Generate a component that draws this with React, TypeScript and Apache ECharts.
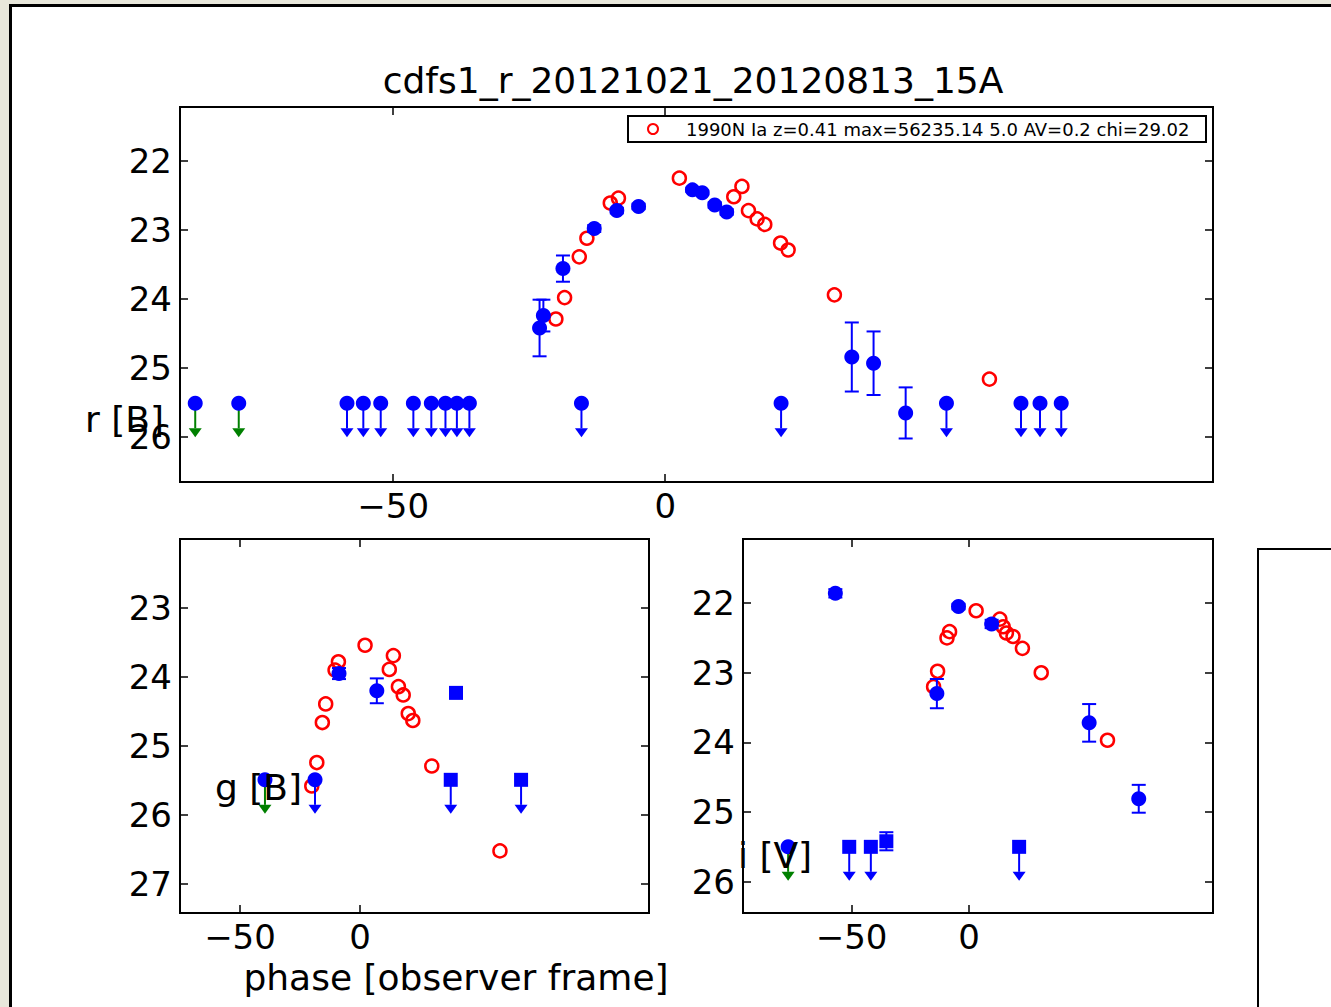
import React, { useEffect, useRef } from "react";
import * as echarts from "echarts";

const FONT = "DejaVu Sans";
const BLUE = "#0000ff";
const RED = "#ff0000";
const GREEN = "#008000";

const chartTitle = "cdfs1_r_20121021_20120813_15A";
const legendLabel = "1990N Ia z=0.41 max=56235.14 5.0 AV=0.2 chi=29.02";
const xAxisTitle = "phase [observer frame]";
const bandLabels = ["r [B]", "g [B]", "i [V]"];

const phaseTicks = [-50, 0];
const rMagTicks = [22, 23, 24, 25, 26];
const gMagTicks = [23, 24, 25, 26, 27];
const iMagTicks = [22, 23, 24, 25, 26];

type Pt = [number, number];
type ErrPt = [number, number, number];

// ---- r band: template model (phase, mag)
const rModel: Pt[] = [
  [-20.1, 24.29], [-18.5, 23.98], [-15.8, 23.39], [-14.4, 23.12], [-10.1, 22.61], [-8.6, 22.54],
  [2.6, 22.25], [12.6, 22.52], [14.1, 22.37], [15.3, 22.72], [16.9, 22.84], [18.3, 22.92],
  [21.2, 23.19], [22.6, 23.29], [31.1, 23.94], [59.6, 25.16],
];
// r band detections (phase, mag, error)
const rDetections: ErrPt[] = [
  [-23.1, 24.42, 0.41], [-22.4, 24.24, 0.23], [-18.8, 23.56, 0.19], [-13.05, 22.98, 0.05],
  [-8.9, 22.72, 0.04], [-4.9, 22.66, 0.04], [5.0, 22.42, 0.03], [6.8, 22.46, 0.03],
  [9.1, 22.64, 0.04], [11.3, 22.74, 0.04], [34.3, 24.84, 0.5], [38.3, 24.93, 0.46], [44.2, 25.65, 0.37],
];
const rDetectionsAlt: ErrPt[] = [];
// r band upper limits (phase, limiting mag)
const rLimits: Pt[] = [
  [-58.5, 25.51], [-55.5, 25.51], [-52.3, 25.51], [-46.3, 25.51], [-43.0, 25.51], [-40.4, 25.51],
  [-38.3, 25.51], [-36.0, 25.51], [-15.4, 25.51], [21.3, 25.51], [51.7, 25.51], [65.4, 25.51],
  [68.9, 25.51], [72.8, 25.51],
];
const rLimitsAlt: Pt[] = [];
const rLimitsEarly: Pt[] = [[-86.4, 25.51], [-78.4, 25.51]];

// ---- g band
const gModel: Pt[] = [
  [-20.1, 25.58], [-18.0, 25.24], [-15.7, 24.66], [-14.3, 24.39], [-10.4, 23.9], [-9.0, 23.78],
  [2.1, 23.54], [12.2, 23.89], [13.9, 23.69], [16.0, 24.14], [18.0, 24.26], [20.1, 24.53],
  [22.0, 24.63], [29.9, 25.29], [58.3, 26.52],
];
const gDetections: ErrPt[] = [[-8.75, 23.95, 0.08], [7.0, 24.2, 0.18]];
const gDetectionsAlt: ErrPt[] = [[40.0, 24.23, 0.03]];
const gLimits: Pt[] = [[-18.75, 25.49]];
const gLimitsAlt: Pt[] = [[37.8, 25.49], [67.1, 25.49]];
const gLimitsEarly: Pt[] = [[-39.6, 25.49]];

// ---- i band
const iModel: Pt[] = [
  [-15.1, 23.2], [-13.4, 22.98], [-9.4, 22.5], [-8.3, 22.41], [3.0, 22.11], [13.1, 22.23],
  [14.5, 22.34], [15.9, 22.43], [18.7, 22.48], [22.7, 22.65], [30.7, 23.0], [58.9, 23.97],
];
const iDetections: ErrPt[] = [
  [-56.9, 21.86, 0.06], [-13.7, 23.3, 0.21], [-4.5, 22.05, 0.04], [9.6, 22.3, 0.06],
  [51.1, 23.72, 0.27], [72.2, 24.81, 0.2],
];
const iDetectionsAlt: ErrPt[] = [[-35.2, 25.42, 0.13]];
const iLimits: Pt[] = [];
const iLimitsAlt: Pt[] = [[-51.0, 25.5], [-41.8, 25.5], [21.3, 25.5]];
const iLimitsEarly: Pt[] = [[-77.0, 25.5]];

const panels = [
  {
    grid: { left: 180, top: 107, width: 1033, height: 375 },
    xRange: [-89.2, 100.7], yRange: [21.22, 26.65], yTicks: rMagTicks,
    model: rModel, det: rDetections, detAlt: rDetectionsAlt,
    lim: rLimits, limAlt: rLimitsAlt, limEarly: rLimitsEarly,
  },
  {
    grid: { left: 180, top: 539, width: 469, height: 374 },
    xRange: [-75, 120.4], yRange: [22.0, 27.42], yTicks: gMagTicks,
    model: gModel, det: gDetections, detAlt: gDetectionsAlt,
    lim: gLimits, limAlt: gLimitsAlt, limEarly: gLimitsEarly,
  },
  {
    grid: { left: 743, top: 539, width: 470, height: 374 },
    xRange: [-96.2, 103.8], yRange: [21.08, 26.45], yTicks: iMagTicks,
    model: iModel, det: iDetections, detAlt: iDetectionsAlt,
    lim: iLimits, limAlt: iLimitsAlt, limEarly: iLimitsEarly,
  },
];

const fmt = (v: number) => (v < 0 ? "\u2212" + Math.abs(v) : String(v));

const errorBars = (color: string) => (_p: any, api: any) => {
  const x = api.value(0);
  const m = api.value(1);
  const e = api.value(2);
  const a = api.coord([x, m - e]);
  const b = api.coord([x, m + e]);
  const st = { stroke: color, lineWidth: 2 };
  const cap = 7;
  return {
    type: "group",
    children: [
      { type: "line", shape: { x1: a[0], y1: a[1], x2: b[0], y2: b[1] }, style: st },
      { type: "line", shape: { x1: a[0] - cap, y1: a[1], x2: a[0] + cap, y2: a[1] }, style: st },
      { type: "line", shape: { x1: b[0] - cap, y1: b[1], x2: b[0] + cap, y2: b[1] }, style: st },
    ],
  };
};

const limitArrows = (color: string) => (_p: any, api: any) => {
  const p = api.coord([api.value(0), api.value(1)]);
  const tip = p[1] + 34;
  const headTop = tip - 9;
  return {
    type: "group",
    children: [
      { type: "line", shape: { x1: p[0], y1: p[1], x2: p[0], y2: headTop }, style: { stroke: color, lineWidth: 2 } },
      {
        type: "polygon",
        shape: { points: [[p[0] - 6.5, headTop], [p[0] + 6.5, headTop], [p[0], tip]] },
        style: { fill: color },
      },
    ],
  };
};

function buildOption() {
  const grid: any[] = [];
  const xAxis: any[] = [];
  const yAxis: any[] = [];
  const series: any[] = [];

  const tickStyle = { inside: true, length: 8, lineStyle: { color: "#000", width: 1.5 } };
  const labelStyle = { color: "#000", fontFamily: FONT, fontSize: 34 };
  const noLine = { show: false, onZero: false };

  panels.forEach((pn, k) => {
    grid.push({ ...pn.grid, show: true, backgroundColor: "#fff", borderColor: "#000", borderWidth: 2 });
    const xBase = {
      type: "value", gridIndex: k, min: pn.xRange[0], max: pn.xRange[1],
      axisLine: noLine, splitLine: { show: false },
    };
    xAxis.push({
      ...xBase, position: "bottom",
      axisTick: { ...tickStyle, customValues: phaseTicks },
      axisLabel: { ...labelStyle, margin: 7, customValues: phaseTicks, formatter: fmt },
    });
    xAxis.push({
      ...xBase, position: "top",
      axisTick: { ...tickStyle, customValues: phaseTicks },
      axisLabel: { show: false },
    });
    const yBase = {
      type: "value", gridIndex: k, inverse: true, min: pn.yRange[0], max: pn.yRange[1],
      axisLine: noLine, splitLine: { show: false },
    };
    yAxis.push({
      ...yBase, position: "left",
      axisTick: { ...tickStyle, customValues: pn.yTicks },
      axisLabel: { ...labelStyle, margin: 8, customValues: pn.yTicks, formatter: fmt },
    });
    yAxis.push({
      ...yBase, position: "right",
      axisTick: { ...tickStyle, customValues: pn.yTicks },
      axisLabel: { show: false },
    });

    const xi = 2 * k;
    const yi = 2 * k;
    series.push({
      type: "scatter", name: legendLabel, xAxisIndex: xi, yAxisIndex: yi, z: 3,
      symbol: "circle", symbolSize: 13,
      itemStyle: { color: "rgba(255,255,255,0)", borderColor: RED, borderWidth: 2.5, opacity: 1 },
      data: pn.model.map((d) => [d[0], d[1]]),
    });
    series.push({
      type: "custom", xAxisIndex: xi, yAxisIndex: yi, z: 4,
      renderItem: errorBars(BLUE), encode: { x: 0, y: 1 },
      data: [...pn.det, ...pn.detAlt],
    });
    series.push({
      type: "custom", xAxisIndex: xi, yAxisIndex: yi, z: 4,
      renderItem: limitArrows(BLUE), encode: { x: 0, y: 1 },
      data: [...pn.lim, ...pn.limAlt],
    });
    series.push({
      type: "custom", xAxisIndex: xi, yAxisIndex: yi, z: 4,
      renderItem: limitArrows(GREEN), encode: { x: 0, y: 1 },
      data: pn.limEarly,
    });
    series.push({
      type: "scatter", xAxisIndex: xi, yAxisIndex: yi, z: 5,
      symbol: "circle", symbolSize: 15, itemStyle: { color: BLUE, opacity: 1 },
      data: [...pn.det, ...pn.lim, ...pn.limEarly].map((d) => [d[0], d[1]]),
    });
    series.push({
      type: "scatter", xAxisIndex: xi, yAxisIndex: yi, z: 5,
      symbol: "rect", symbolSize: 14, itemStyle: { color: BLUE, opacity: 1 },
      data: [...pn.detAlt, ...pn.limAlt].map((d) => [d[0], d[1]]),
    });
  });

  const bigText = { fontFamily: FONT, fontSize: 36, fill: "#000" };

  const graphic: any[] = [
    {
      type: "text", x: 693, y: 80, z: 100,
      style: { ...bigText, text: chartTitle, textAlign: "center", textVerticalAlign: "middle" },
    },
    {
      type: "text", x: 456, y: 977, z: 100,
      style: { ...bigText, text: xAxisTitle, textAlign: "center", textVerticalAlign: "middle" },
    },
    {
      type: "text", x: 85, y: 419, z: 100,
      style: { ...bigText, text: bandLabels[0], textAlign: "left", textVerticalAlign: "middle" },
    },
    {
      type: "text", x: 215, y: 787, z: 100,
      style: { ...bigText, text: bandLabels[1], textAlign: "left", textVerticalAlign: "middle" },
    },
    {
      type: "text", x: 738, y: 855, z: 100,
      style: { ...bigText, text: bandLabels[2], textAlign: "left", textVerticalAlign: "middle" },
    },
    // legend box
    {
      type: "rect", z: 100,
      shape: { x: 628, y: 116, width: 578, height: 26 },
      style: { fill: "#fff", stroke: "#000", lineWidth: 2 },
    },
    {
      type: "circle", z: 101,
      shape: { cx: 653, cy: 129, r: 5 },
      style: { fill: "none", stroke: RED, lineWidth: 2 },
    },
    {
      type: "text", x: 686, y: 129, z: 101,
      style: { fontFamily: FONT, fontSize: 18, fill: "#000", text: legendLabel, textAlign: "left", textVerticalAlign: "middle" },
    },
    // fourth (empty) panel, cut at the page edge
    {
      type: "rect", z: 1,
      shape: { x: 1258, y: 549, width: 200, height: 600 },
      style: { fill: "#fff", stroke: "#000", lineWidth: 2 },
    },
  ];

  return {
    animation: false,
    backgroundColor: "transparent",
    grid,
    xAxis,
    yAxis,
    series,
    graphic,
  };
}

export default function App() {
  const ref = useRef<HTMLDivElement>(null);

  useEffect(() => {
    document.body.style.margin = "0";
    if (!ref.current) return;
    const chart = echarts.init(ref.current, null, { renderer: "svg" });
    chart.setOption(buildOption() as any);
    return () => chart.dispose();
  }, []);

  return (
    <div style={{ position: "relative", width: 1331, height: 1007, overflow: "hidden", background: "#e8e7db" }}>
      <div
        style={{
          position: "absolute", left: 9, top: 4, width: 1400, height: 1100,
          background: "#fff", border: "3px solid #000",
        }}
      />
      <div ref={ref} style={{ position: "absolute", left: 0, top: 0, width: 1331, height: 1007 }} />
    </div>
  );
}
